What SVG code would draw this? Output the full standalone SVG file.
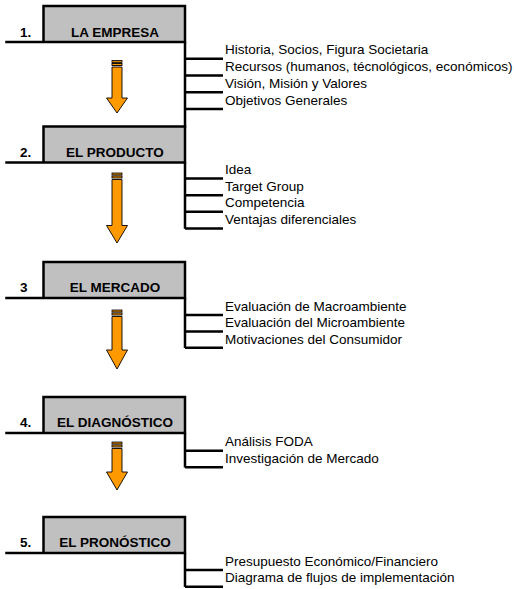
<svg xmlns="http://www.w3.org/2000/svg" width="514" height="589" viewBox="0 0 514 589">
<style>
.box{fill:#C0C0C0;stroke:none}
.edge{fill:none;stroke:#000;stroke-width:2.5;stroke-linecap:square}
.num{font-family:"Liberation Sans",Arial,sans-serif;font-weight:bold;font-size:13.5px;fill:#000}
.ttl{font-family:"Liberation Sans",Arial,sans-serif;font-weight:bold;font-size:13.5px;fill:#000;text-anchor:middle}
.item{font-family:"Liberation Sans",Arial,sans-serif;font-size:13.5px;fill:#000}
.ln{fill:none;stroke:#000;stroke-width:2.5}
.arr{fill:#FF9900;stroke:#000;stroke-width:0.9}
.stripe{fill:#D98200;stroke:#000;stroke-width:0.8}
</style>
<defs>
<g id="boxshape">
<rect class="box" x="43.5" y="0" width="141.5" height="36"/>
<path class="edge" d="M43.5,36 V0 H185 V36 M6.5,36 H185"/>
</g>
</defs>

<g id="node1">
<use href="#boxshape" y="6"/>
<text class="num" x="20" y="36.5">1.</text>
<text class="ttl" x="115" y="36.5">LA EMPRESA</text>
<text class="item" x="225" y="54">Historia, Socios, Figura Societaria</text>
<text class="item" x="225" y="71">Recursos (humanos, técnológicos, económicos)</text>
<text class="item" x="225" y="88">Visión, Misión y Valores</text>
<text class="item" x="225" y="104.5">Objetivos Generales</text>
</g>

<g id="node2">
<use href="#boxshape" y="126.5"/>
<text class="num" x="20" y="156.5">2.</text>
<text class="ttl" x="115" y="156.5">EL PRODUCTO</text>
<text class="item" x="225" y="174">Idea</text>
<text class="item" x="225" y="190.5">Target Group</text>
<text class="item" x="225" y="207">Competencia</text>
<text class="item" x="225" y="224">Ventajas diferenciales</text>
</g>

<g id="node3">
<use href="#boxshape" y="262"/>
<text class="num" x="20" y="291.5">3</text>
<text class="ttl" x="115" y="291.5">EL MERCADO</text>
<text class="item" x="225" y="310.5">Evaluación de Macroambiente</text>
<text class="item" x="225" y="327">Evaluación del Microambiente</text>
<text class="item" x="225" y="343.5">Motivaciones del Consumidor</text>
</g>

<g id="node4">
<use href="#boxshape" y="397"/>
<text class="num" x="20" y="427">4.</text>
<text class="ttl" x="115" y="427">EL DIAGNÓSTICO</text>
<text class="item" x="225" y="446">Análisis FODA</text>
<text class="item" x="225" y="462.5">Investigación de Mercado</text>
</g>

<g id="node5">
<use href="#boxshape" y="517"/>
<text class="num" x="20" y="547">5.</text>
<text class="ttl" x="115" y="547">EL PRONÓSTICO</text>
<text class="item" x="225" y="565.5">Presupuesto Económico/Financiero</text>
<text class="item" x="225" y="582">Diagrama de flujos de implementación</text>
</g>

<g id="connectors">
<path class="ln" d="M185,42 V127.5 M185,58.7 H223 M185,75.5 H223 M185,92.3 H223 M185,109 H223"/>
<path class="ln" d="M185,162.5 V228.7 M185,178.5 H223 M185,195.2 H223 M185,211.8 H223 M185,228.5 H223"/>
<path class="ln" d="M185,298 V348 M185,315 H223 M185,331.5 H223 M185,347.8 H223"/>
<path class="ln" d="M185,433 V467.5 M185,450.7 H223 M185,467.3 H223"/>
<path class="ln" d="M185,553 V587 M185,570 H223 M185,586.7 H223"/>

<g id="arrow1">
<rect class="stripe" x="112" y="60.5" width="10" height="2"/>
<rect class="arr" x="112" y="63.5" width="10" height="2"/>
<path class="arr" d="M112,67 H122 V98 H127.5 L117,113 L106.5,98 H112 Z"/>
</g>
<g id="arrow2">
<rect class="stripe" x="112" y="173" width="10" height="2"/>
<rect class="arr" x="112" y="176" width="10" height="2"/>
<path class="arr" d="M112,179.5 H122 V225.5 H127.5 L117,243 L106.5,225.5 H112 Z"/>
</g>
<g id="arrow3">
<rect class="stripe" x="112" y="310" width="10" height="2"/>
<rect class="arr" x="112" y="313" width="10" height="2"/>
<path class="arr" d="M112,316.5 H122 V350 H127.5 L117,369 L106.5,350 H112 Z"/>
</g>
<g id="arrow4">
<rect class="stripe" x="112" y="442" width="10" height="2"/>
<rect class="arr" x="112" y="445" width="10" height="2"/>
<path class="arr" d="M112,448.5 H122 V472 H127.5 L117,490 L106.5,472 H112 Z"/>
</g>
</g>
</svg>
